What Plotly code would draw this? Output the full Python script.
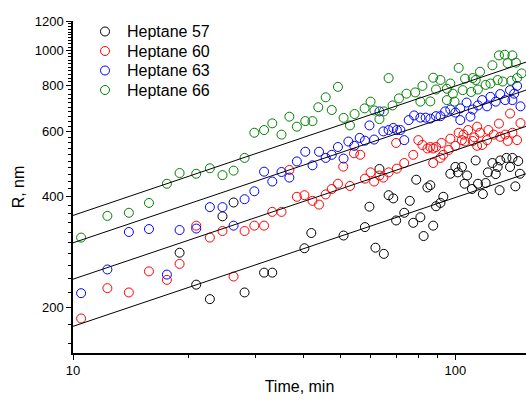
import plotly.graph_objects as go

# ---------------- data ----------------
t57 = [19.0, 21.0, 22.8, 24.6, 26.3, 28.1, 31.6, 33.2, 40.3, 42.0, 51.0, 58.0, 59.6, 61.8,
       63.3, 65.0, 66.9, 68.8, 70.0, 73.5, 76.0, 77.6, 79.0, 81.0, 82.6, 84.5, 86.0, 87.5,
       89.0, 91.4, 93.0, 97.0, 100.0, 101.5, 104.0, 105.7, 107.3, 110.5, 113.0, 114.6, 118.0,
       120.0, 121.6, 125.0, 127.5, 129.0, 130.5, 131.0, 136.0, 139.0, 141.0, 143.5, 146.0, 147.5]
r57 = [282, 231, 211, 354, 386, 220, 249, 249, 290, 319, 314, 331, 376, 291,
       476, 280, 404, 396, 345, 362, 390, 340, 445, 352, 313, 424, 430, 334,
       377, 385, 400, 462, 482, 466, 482, 434, 457, 420, 502, 434, 407,
       436, 466, 494, 461, 482, 417, 502, 510, 482, 510, 427, 500, 462]

t60 = [10.5, 12.3, 14.0, 15.8, 17.6, 19.0, 21.0, 22.8, 24.6, 26.3, 28.1, 29.8, 31.6, 33.2,
       35.1, 36.8, 38.5, 40.3, 42.3, 44.0, 45.8, 47.5, 49.3, 50.9, 53.0, 54.3, 56.4, 58.0,
       60.0, 61.3, 63.3, 64.8, 66.9, 70.0, 70.3, 73.5, 77.6, 80.0, 82.0, 84.5, 86.0, 87.5,
       87.5, 89.0, 91.4, 92.0, 93.0, 96.0, 97.0, 100.0, 102.0, 104.0, 105.0, 106.0, 108.0,
       111.0, 112.0, 114.0, 114.0, 116.0, 117.5, 121.0, 122.0, 126.0, 130.0, 131.0, 135.0,
       137.0, 139.0, 141.0, 145.0, 148.0]
r60 = [187, 226, 220, 251, 238, 263, 334, 310, 323, 243, 323, 334, 334, 364,
       364, 473, 400, 404, 390, 381, 406, 420, 434, 483, 428, 525, 520, 448,
       466, 440, 457, 451, 466, 560, 477, 494, 520, 570, 553, 541, 546, 494,
       541, 546, 510, 560, 520, 536, 575, 550, 597, 570, 590, 565, 607,
       567, 580, 550, 620, 597, 553, 570, 607, 590, 632, 582, 590,
       567, 673, 597, 570, 634]

t63 = [10.5, 12.3, 14.0, 15.8, 17.6, 19.0, 21.0, 22.8, 24.6, 26.3, 28.1, 29.8, 31.6, 33.2,
       35.1, 36.8, 38.5, 40.5, 42.3, 44.0, 45.8, 47.5, 49.3, 51.0, 52.5, 54.4, 56.2, 58.0,
       59.6, 61.3, 63.3, 64.8, 66.9, 68.8, 70.3, 71.8, 73.5, 75.5, 78.0, 81.0, 83.6, 86.0,
       89.0, 91.4, 94.0, 97.0, 100.0, 103.0, 103.0, 107.0, 109.5, 111.0, 114.6, 117.5, 121.0,
       123.5, 127.5, 131.0, 135.0, 139.0, 141.0, 142.5, 145.0, 148.0]
r63 = [219, 254, 321, 327, 246, 325, 328, 375, 375, 334, 394, 414, 468, 440,
       467, 451, 499, 530, 487, 530, 510, 520, 546, 508, 565, 550, 578, 568,
       625, 572, 682, 602, 607, 615, 607, 607, 570, 646, 665, 656, 656, 652,
       662, 662, 682, 690, 677, 695, 646, 721, 660, 690, 708, 732, 704,
       747, 725, 760, 732, 779, 732, 762, 800, 704]

t66 = [10.5, 12.3, 14.0, 15.8, 17.6, 19.0, 21.0, 22.8, 24.6, 26.3, 28.1, 29.8, 31.6, 33.2,
       35.1, 36.8, 38.5, 40.5, 42.3, 43.8, 45.8, 47.5, 49.3, 51.0, 53.0, 54.5, 57.9, 60.0,
       61.4, 63.3, 65.0, 66.9, 68.5, 71.2, 74.5, 78.5, 81.0, 82.0, 86.0, 87.5, 89.0, 91.4,
       95.0, 95.0, 97.0, 98.5, 99.5, 102.0, 104.5, 106.0, 110.0, 111.0, 113.0, 114.5, 116.0,
       120.0, 123.5, 125.0, 129.0, 130.0, 133.0, 134.6, 137.0, 140.0, 141.0, 144.0, 145.0, 149.0]
r66 = [310, 355, 362, 385, 434, 464, 462, 478, 458, 471, 510, 597, 607, 633,
       590, 660, 620, 642, 642, 700, 745, 688, 795, 655, 625, 671, 695, 725,
       686, 650, 682, 840, 708, 740, 762, 768, 725, 800, 726, 842, 782, 830,
       786, 732, 812, 762, 725, 895, 779, 837, 770, 840, 830, 782, 874,
       805, 812, 910, 830, 968, 822, 972, 922, 826, 968, 925, 840, 865]

# fitted power-law lines: R at the two ends of the time span
fit_t = [10, 153]
fit57 = [178, 462]
fit60 = [239, 621]
fit63 = [300, 779]
fit66 = [356, 928]

names = ["Heptane 57", "Heptane 60", "Heptane 63", "Heptane 66"]
colors = ["#000000", "#ff0000", "#0000ff", "#008000"]

font = "Liberation Sans, Arial, sans-serif"

fig = go.Figure()
series = [(t57, r57), (t60, r60), (t63, r63), (t66, r66)]
for (t, r), n, c in zip(series, names, colors):
    fig.add_trace(go.Scatter(x=t, y=r, mode="markers", name=n, showlegend=False,
                             marker=dict(symbol="circle-open", size=9, color=c,
                                         line=dict(width=1, color=c))))
for fr in [fit57, fit60, fit63, fit66]:
    fig.add_trace(go.Scatter(x=fit_t, y=fr, mode="lines", showlegend=False,
                             line=dict(color="black", width=1), hoverinfo="skip"))

# ---- legend drawn in paper coordinates (tight 20 px row spacing like the original) ----
W, H = 526, 403
ML, MR, MT, MB = 73, 0, 21, 50
pw, ph = W - ML - MR, H - MT - MB
leg_marker_px = 105
leg_text_px = 125
leg_rows_px = [31.5, 51, 70.5, 90]
shapes, annotations = [], []
for n, c, ry in zip(names, colors, leg_rows_px):
    xp = (leg_marker_px - ML) / pw
    yp = (H - MB - ry) / ph
    shapes.append(dict(type="circle", xref="paper", yref="paper",
                       xsizemode="pixel", ysizemode="pixel", xanchor=xp, yanchor=yp,
                       x0=-4.5, x1=4.5, y0=-4.5, y1=4.5,
                       line=dict(color=c, width=1), fillcolor="rgba(0,0,0,0)"))
    annotations.append(dict(text=n, xref="paper", yref="paper",
                            x=(leg_text_px - ML) / pw, y=yp, xanchor="left", yanchor="middle",
                            showarrow=False, font=dict(size=16, family=font, color="black")))

fig.update_layout(
    width=W, height=H,
    margin=dict(l=ML, r=MR, t=MT, b=MB),
    paper_bgcolor="white", plot_bgcolor="white",
    font=dict(family=font, size=13, color="black"),
    showlegend=False,
    shapes=shapes, annotations=annotations,
    xaxis=dict(type="log", range=[1, 2.1847], showgrid=False, zeroline=False,
               showline=True, linecolor="black", linewidth=1.5,
               ticks="outside", ticklen=5, tickwidth=1, tickcolor="black",
               tickvals=[10, 100], ticktext=["10", "100"],
               minor=dict(tickvals=[20, 30, 40, 50, 60, 70, 80, 90, 200], ticks="outside",
                          ticklen=3, tickcolor="black", showgrid=False),
               title=dict(text="Time, min", font=dict(size=16), standoff=3)),
    yaxis=dict(type="log", range=[2.1781, 3.07918], showgrid=False, zeroline=False,
               showline=True, linecolor="black", linewidth=1.5,
               ticks="outside", ticklen=5, tickwidth=1, tickcolor="black",
               tickvals=[200, 400, 600, 800, 1000, 1200],
               ticktext=["200", "400", "600", "800", "1000", "1200"],
               minor=dict(tickvals=[v for v in range(160, 1200, 20) if v not in (200, 400, 600, 800, 1000)],
                          ticks="outside", ticklen=3, tickcolor="black", showgrid=False),
               title=dict(text="R, nm", font=dict(size=16), standoff=6)),
)

fig.write_html("out.html")
